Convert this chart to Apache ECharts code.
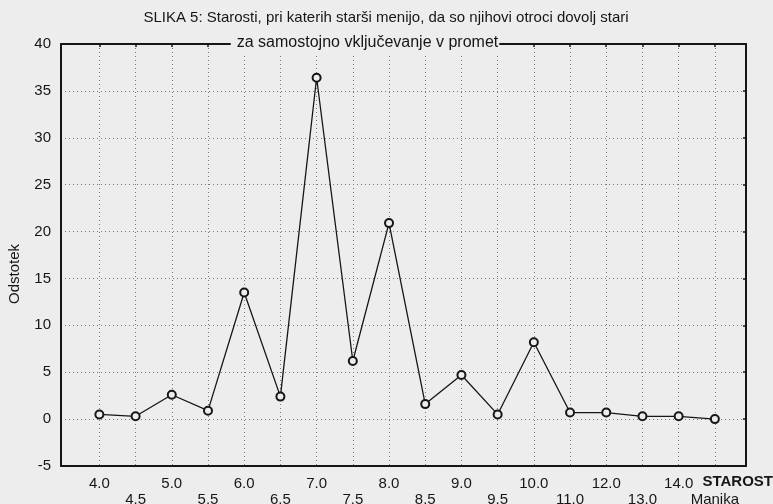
<!DOCTYPE html>
<html>
<head>
<meta charset="utf-8">
<script src="https://cdn.jsdelivr.net/npm/echarts@6/dist/echarts.min.js"></script>
<style>
  html, body { margin: 0; padding: 0; background: #ededed; }
  #chart { width: 773px; height: 504px; }
</style>
</head>
<body>
<div id="chart"></div>
<script>
// Age categories (STAROST) and share of parents (Odstotek, %)
const categories = ['4.0', '4.5', '5.0', '5.5', '6.0', '6.5', '7.0', '7.5', '8.0',
                    '8.5', '9.0', '9.5', '10.0', '11.0', '12.0', '13.0', '14.0', 'Manjka'];
const percentages = [0.5, 0.3, 2.6, 0.9, 13.5, 2.4, 36.4, 6.2, 20.9,
                     1.6, 4.7, 0.5, 8.2, 0.7, 0.7, 0.3, 0.3, 0.0];
const yTicks = [-5, 0, 5, 10, 15, 20, 25, 30, 35, 40];
const titleLine1 = 'SLIKA 5: Starosti, pri katerih starši menijo, da so njihovi otroci dovolj stari';
const titleLine2 = 'za samostojno vključevanje v promet';

const BG = '#ededed';
const INK = '#161616';
const FONT = 'Liberation Sans, Arial, sans-serif';

const positions = categories.map((_, i) => i);
const evenPositions = positions.filter(i => i % 2 === 0);
const oddPositions = positions.filter(i => i % 2 === 1);
const points = percentages.map((v, i) => [i, v]);

const X_MIN = -1.06, X_MAX = 17.86;
const dotted = { show: true, lineStyle: { color: '#7a7a7a', width: 1, type: [1, 3] } };
const frameLine = { show: true, onZero: false, lineStyle: { color: INK, width: 2 } };
const labelBase = {
  color: INK, fontFamily: FONT, fontSize: 15,
  showMinLabel: true, showMaxLabel: true,
  formatter: v => categories[Math.round(v)]
};

const chart = echarts.init(document.getElementById('chart'), null, { renderer: 'canvas' });
chart.setOption({
  backgroundColor: BG,
  animation: false,
  grid: { left: 61, right: 27, top: 44, bottom: 38, outerBoundsMode: 'none', containLabel: false },
  xAxis: [
    {
      // bottom frame, vertical grid and the upper row of age labels
      type: 'value', min: X_MIN, max: X_MAX,
      axisLine: frameLine,
      axisTick: { show: false, customValues: positions },
      splitLine: dotted,
      axisLabel: Object.assign({}, labelBase, { customValues: evenPositions, margin: 10 })
    },
    {
      // lower row of age labels (staggered)
      type: 'value', min: X_MIN, max: X_MAX, position: 'bottom',
      axisLine: { show: false },
      axisTick: { show: false },
      splitLine: { show: false },
      axisLabel: Object.assign({}, labelBase, { customValues: oddPositions, margin: 26 })
    },
    {
      // top frame with inward ticks
      type: 'value', min: X_MIN, max: X_MAX, position: 'top',
      axisLine: frameLine,
      axisTick: { show: true, inside: true, length: 3, customValues: positions, lineStyle: { color: INK, width: 1.5 } },
      splitLine: { show: false },
      axisLabel: { show: false, customValues: positions }
    }
  ],
  yAxis: [
    {
      type: 'value', min: -5, max: 40, interval: 5,
      axisLine: frameLine,
      axisTick: { show: false },
      splitLine: dotted,
      axisLabel: {
        color: INK, fontFamily: FONT, fontSize: 15, margin: 10,
        formatter: v => yTicks.includes(v) ? String(v) : ''
      }
    },
    {
      type: 'value', min: -5, max: 40, interval: 5, position: 'right',
      axisLine: frameLine,
      axisTick: { show: true, inside: true, length: 3, lineStyle: { color: INK, width: 1.5 } },
      splitLine: { show: false },
      axisLabel: { show: false }
    }
  ],
  series: [
    {
      type: 'line',
      data: points,
      xAxisIndex: 0,
      yAxisIndex: 0,
      symbol: 'circle',
      symbolSize: 8,
      lineStyle: { color: INK, width: 1.3 },
      itemStyle: { color: BG, borderColor: INK, borderWidth: 2 },
      z: 5
    }
  ],
  graphic: [
    {
      type: 'text', x: 386, y: 18,
      style: { text: titleLine1, fill: INK, font: '15px ' + FONT, align: 'center', verticalAlign: 'middle' }
    },
    {
      type: 'text', x: 365, y: 43, z: 10,
      style: {
        text: titleLine2, fill: INK, font: '16px ' + FONT,
        align: 'center', verticalAlign: 'middle',
        backgroundColor: BG, padding: [3, 1, 3, 6]
      }
    },
    {
      type: 'text', x: 15, y: 274, rotation: Math.PI / 2,
      style: { text: 'Odstotek', fill: INK, font: '15px ' + FONT, align: 'center', verticalAlign: 'middle' }
    },
    {
      type: 'text', x: 773, y: 482,
      style: { text: 'STAROST', fill: INK, font: 'bold 15px ' + FONT, align: 'right', verticalAlign: 'middle' }
    }
  ]
});
</script>
</body>
</html>
